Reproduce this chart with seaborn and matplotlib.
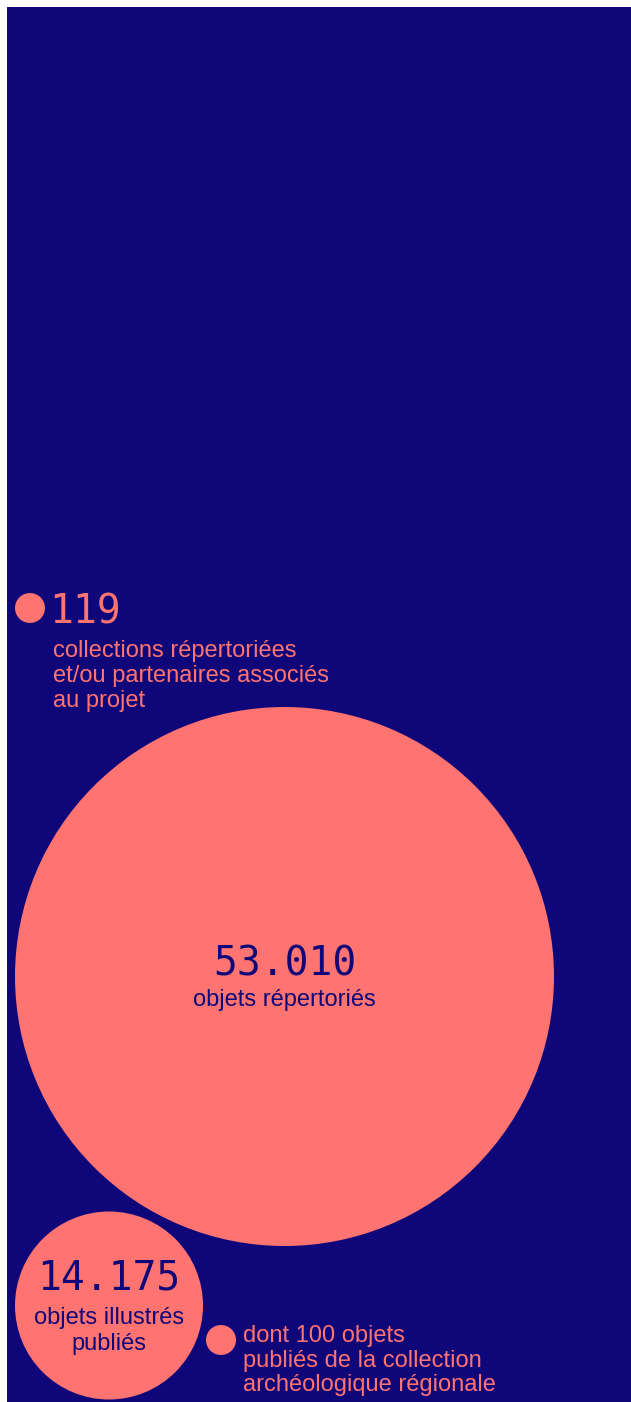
import numpy as np
import pandas as pd
import matplotlib
matplotlib.use("Agg")
import matplotlib.pyplot as plt
from matplotlib.patches import Rectangle
import seaborn as sns

# --- figures shown on the poster -------------------------------------------
values = [119, 53010, 14175, 100]
value_labels = ["119", "53.010", "14.175", ""]
captions = [
    ["collections répertoriées", "et/ou partenaires associés", "au projet"],
    ["objets répertoriés"],
    ["objets illustrés", "publiés"],
    ["dont 100 objets", "publiés de la collection", "archéologique régionale"],
]

# --- layout in pixels (origin top-left) -------------------------------------
W, H, DPI = 631, 1402, 100
center_x = [30, 284.5, 109, 221]
center_y = [608, 976.5, 1305.5, 1340]
radius_px = [15, 269.5, 94, 15]

NAVY = "#0f0679"
CORAL = "#ff7370"
MONO = "DejaVu Sans Mono"
SANS = "Liberation Sans"

sns.set_theme(style="white")
plt.rcParams["font.family"] = [SANS, "DejaVu Sans"]

fig = plt.figure(figsize=(W / DPI, H / DPI), dpi=DPI, facecolor="white")
ax = fig.add_axes([0, 0, 1, 1])
ax.set_xlim(0, W)
ax.set_ylim(H, 0)
ax.axis("off")

# navy panel
ax.add_patch(Rectangle((7, 7), W - 7, H - 7, facecolor=NAVY, edgecolor="none", zorder=0))

# bubbles: marker area in points^2 so the diameter equals 2*radius pixels
df = pd.DataFrame({
    "value": values,
    "x": center_x,
    "y": center_y,
    "s": [(2 * r * 72 / DPI) ** 2 for r in radius_px],
})
sns.scatterplot(data=df, x="x", y="y", s=df["s"].to_numpy(), color=CORAL,
                linewidth=0, edgecolor="none", legend=False, ax=ax, zorder=2)
ax.set_xlim(0, W)
ax.set_ylim(H, 0)

NUM_PT = 28.5
CAP_PT = 17
LINE = 25.5

# 119 - beside its small dot
ax.text(49, 623, value_labels[0], fontsize=NUM_PT, family=MONO, color=CORAL,
        ha="left", va="baseline", zorder=3)
for i, line in enumerate(captions[0]):
    ax.text(53, 657 + i * 25, line, fontsize=CAP_PT, color=CORAL,
            ha="left", va="baseline", zorder=3)

# 53.010 - inside the large circle
ax.text(center_x[1], 975, value_labels[1], fontsize=NUM_PT, family=MONO, color=NAVY,
        ha="center", va="baseline", zorder=3)
ax.text(center_x[1], 1006, captions[1][0], fontsize=CAP_PT, color=NAVY,
        ha="center", va="baseline", zorder=3)

# 14.175 - inside the medium circle
ax.text(center_x[2], 1290, value_labels[2], fontsize=NUM_PT, family=MONO, color=NAVY,
        ha="center", va="baseline", zorder=3)
for i, line in enumerate(captions[2]):
    ax.text(center_x[2], 1324 + i * 26, line, fontsize=CAP_PT, color=NAVY,
            ha="center", va="baseline", zorder=3)

# 100 - note beside the tiny dot
for i, line in enumerate(captions[3]):
    ax.text(243, 1342 + i * 24.5, line, fontsize=CAP_PT, color=CORAL,
            ha="left", va="baseline", zorder=3)

fig.savefig("out.png", dpi=DPI, facecolor="white")
